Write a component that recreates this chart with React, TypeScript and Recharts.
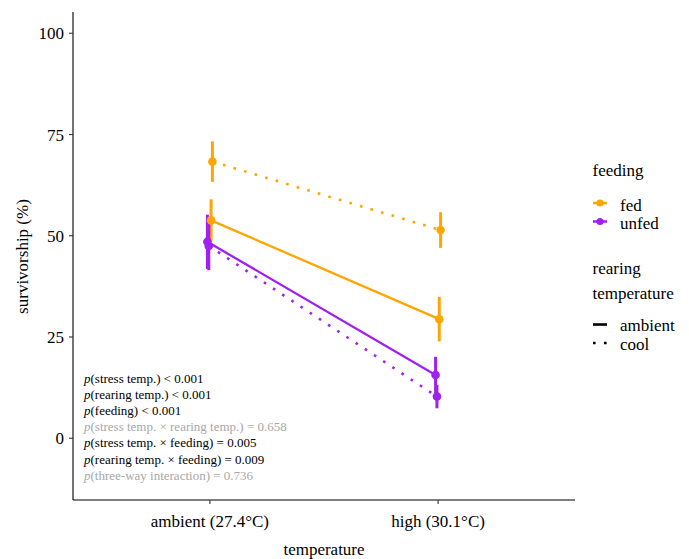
import React from 'react';
import { ComposedChart, Line, XAxis, YAxis, ErrorBar } from 'recharts';

const categories = ['ambient (27.4°C)', 'high (30.1°C)'];
const xTicks = [1, 2];
const yTicks = [0, 25, 50, 75, 100];

const fedAmbientMean = [53.8, 29.4];
const fedAmbientErr = [5.2, 5.5];
const fedCoolMean = [68.3, 51.4];
const fedCoolErr = [5.0, 4.4];
const unfedAmbientMean = [48.5, 15.6];
const unfedAmbientErr = [6.7, 4.5];
const unfedCoolMean = [47.5, 10.3];
const unfedCoolErr = [6.0, 2.9];

const feedingLevels = ['fed', 'unfed'];
const rearingLevels = ['ambient', 'cool'];

const pLabels = [
  '(stress temp.) < 0.001',
  '(rearing temp.) < 0.001',
  '(feeding) < 0.001',
  '(stress temp. × rearing temp.) = 0.658',
  '(stress temp. × feeding) = 0.005',
  '(rearing temp. × feeding) = 0.009',
  '(three-way interaction) = 0.736',
];
const pSignificant = [true, true, true, false, true, true, false];

const ORANGE = '#FFA500';
const PURPLE = '#A020F0';
const FONT = '"Liberation Serif", "Times New Roman", serif';

const build = (means: number[], errs: number[], dodge: number) =>
  categories.map((c, i) => ({ x: i + 1 + dodge, y: means[i], err: errs[i], cat: c }));

const seriesList = [
  { name: 'fed-ambient', data: build(fedAmbientMean, fedAmbientErr, 0.005), color: ORANGE, dotted: false },
  { name: 'fed-cool', data: build(fedCoolMean, fedCoolErr, 0.011), color: ORANGE, dotted: true },
  { name: 'unfed-cool', data: build(unfedCoolMean, unfedCoolErr, -0.005), color: PURPLE, dotted: true },
  { name: 'unfed-ambient', data: build(unfedAmbientMean, unfedAmbientErr, -0.011), color: PURPLE, dotted: false },
];

const tickProps = { fontSize: 17, fill: '#000', fontFamily: 'Liberation Serif' };

// HTML text placed by baseline (Liberation Serif, line-height = font-size: baseline ≈ top + 0.8375em)
const Txt = ({ x, baseline, size, color = '#000', children }: any) => (
  <div
    style={{
      position: 'absolute',
      left: x,
      top: baseline - 0.8375 * size,
      fontSize: size,
      lineHeight: `${size}px`,
      color,
      whiteSpace: 'nowrap',
      fontFamily: FONT,
    }}
  >
    {children}
  </div>
);

export default function App() {
  return (
    <div style={{ position: 'absolute', left: 0, top: 0, width: 689, height: 559, background: '#fff', fontFamily: FONT }}>
      <ComposedChart width={689} height={559} margin={{ top: 12, right: 114, bottom: 0, left: 0 }}>
        <XAxis
          type="number"
          dataKey="x"
          domain={[0.4, 2.6]}
          ticks={xTicks}
          tickFormatter={(v: number) => categories[Math.round(v) - 1]}
          height={59}
          tickSize={4}
          tickMargin={11}
          allowDataOverflow
          axisLine={{ stroke: '#000', strokeWidth: 1.1 }}
          tickLine={{ stroke: '#333', strokeWidth: 1.1 }}
          tick={tickProps}
        />
        <YAxis
          type="number"
          domain={[-15.25, 105.25]}
          ticks={yTicks}
          width={73}
          tickSize={4}
          tickMargin={5}
          allowDataOverflow
          axisLine={{ stroke: '#000', strokeWidth: 1.1 }}
          tickLine={{ stroke: '#333', strokeWidth: 1.1 }}
          tick={tickProps}
        />
        {seriesList.map((s) => (
          <Line
            key={s.name}
            data={s.data}
            dataKey="y"
            type="linear"
            stroke={s.color}
            strokeWidth={s.dotted ? 2.6 : 2.3}
            strokeDasharray={s.dotted ? '2.6 8.4' : undefined}
            dot={{ r: 4.3, fill: s.color, stroke: 'none', strokeDasharray: undefined }}
            activeDot={false}
            isAnimationActive={false}
          >
            <ErrorBar dataKey="err" width={0} stroke={s.color} strokeWidth={3} direction="y" />
          </Line>
        ))}
      </ComposedChart>
      <svg width={689} height={559} style={{ position: 'absolute', left: 0, top: 0, pointerEvents: 'none' }}>
        {feedingLevels.map((lv, i) => {
          const cy = 203 + i * 18.5;
          const col = i === 0 ? ORANGE : PURPLE;
          return (
            <g key={lv}>
              <line x1={593} x2={607} y1={cy} y2={cy} stroke={col} strokeWidth={2.5} />
              <circle cx={600} cy={cy} r={3.6} fill={col} />
            </g>
          );
        })}
        {rearingLevels.map((lv, i) => {
          const cy = 324.5 + i * 18.5;
          return (
            <line
              key={lv}
              x1={593}
              x2={607}
              y1={cy}
              y2={cy}
              stroke="#000"
              strokeWidth={2.6}
              strokeDasharray={i === 1 ? '2.6 8.4' : undefined}
            />
          );
        })}
      </svg>
      <div
        style={{
          position: 'absolute',
          left: 22 - 100,
          top: 256 - 8.5,
          width: 200,
          height: 17,
          fontSize: 17,
          lineHeight: '17px',
          textAlign: 'center',
          transform: 'rotate(-90deg)',
          transformOrigin: '100px 8.5px',
          fontFamily: FONT,
          whiteSpace: 'nowrap',
        }}
      >
        survivorship (%)
      </div>
      <div
        style={{
          position: 'absolute',
          left: 224,
          width: 200,
          top: 555 - 0.8375 * 17,
          fontSize: 17,
          lineHeight: '17px',
          textAlign: 'center',
          fontFamily: FONT,
        }}
      >
        temperature
      </div>
      {pLabels.map((t, i) => (
        <Txt key={i} x={84} baseline={382.5 + i * 16.2} size={13} color={pSignificant[i] ? '#000' : '#a8a8a8'}>
          <i>p</i>
          {t}
        </Txt>
      ))}
      <Txt x={592.5} baseline={176} size={17}>feeding</Txt>
      {feedingLevels.map((lv, i) => (
        <Txt key={lv} x={620} baseline={211 + i * 18.5} size={17}>{lv}</Txt>
      ))}
      <Txt x={592.5} baseline={274.5} size={17}>rearing</Txt>
      <Txt x={592.5} baseline={299} size={17}>temperature</Txt>
      {rearingLevels.map((lv, i) => (
        <Txt key={lv} x={620} baseline={331.5 + i * 18.5} size={17}>{lv}</Txt>
      ))}
    </div>
  );
}
